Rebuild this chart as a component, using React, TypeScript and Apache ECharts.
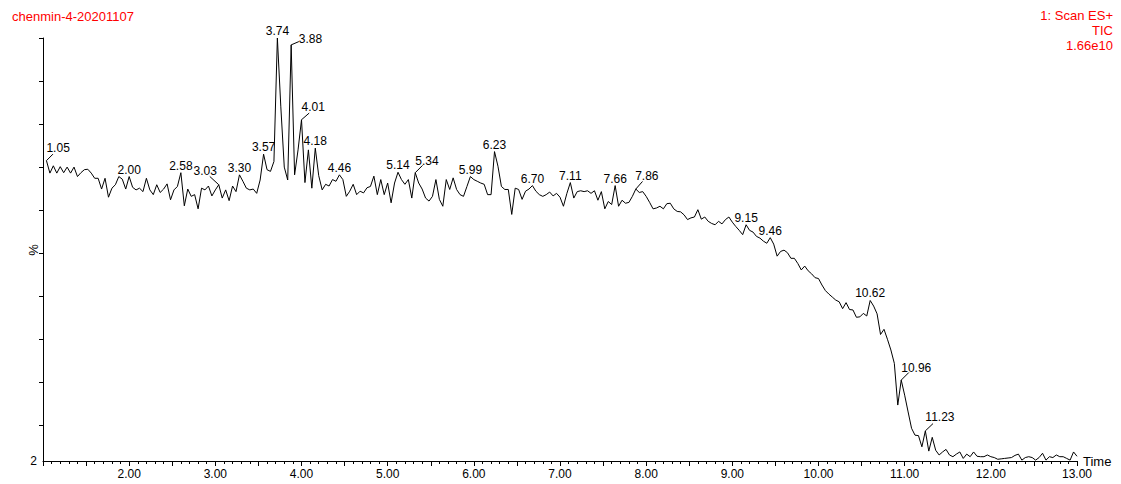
import React, { useEffect, useRef } from "react";
import * as echarts from "echarts";

// ---- data ----
const T0 = 1.04; // first scan time (min)
const DT = 0.04; // scan interval (min)
const ticValues = [
  71.5, 68.6, 70.3, 68.6, 70.1, 68.7, 70.0, 68.6, 70.0, 67.8,
  68.7, 69.4, 69.5, 68.6, 67.4, 67.4, 64.9, 67.4, 63.0, 65.1,
  65.9, 67.8, 67.2, 64.9, 67.8, 65.3, 64.7, 65.1, 64.3, 67.4,
  64.7, 63.6, 65.9, 64.1, 64.9, 66.1, 62.4, 64.7, 65.5, 68.7,
  61.0, 64.9, 63.2, 63.6, 60.3, 65.1, 64.7, 65.6, 63.3, 64.7,
  65.9, 62.8, 64.7, 62.2, 65.6, 64.3, 68.2, 66.7, 65.1, 64.7,
  64.9, 63.9, 67.0, 73.0, 69.4, 69.0, 71.3, 100, 84, 70,
  67.0, 98.4, 68.2, 74, 81.0, 66.4, 74.0, 65.1, 74.4, 68.0,
  64.7, 66.0, 65.6, 67.1, 66.7, 68.2, 67.1, 63.2, 64.4, 66.0,
  63.6, 64.4, 64.0, 65.2, 65.5, 67.9, 63.6, 67.1, 63.6, 66.3,
  61.7, 66.3, 68.8, 67.1, 66.0, 67.1, 62.8, 68.7, 66.3, 64.9,
  62.8, 62.1, 63.2, 67.1, 62.5, 60.9, 67.1, 64.8, 67.5, 64.8,
  63.6, 63.2, 65.5, 67.8, 67.1, 66.7, 66.3, 66.0, 63.6, 63.6,
  73.6, 70.2, 65.5, 64.8, 64.8, 59.0, 65.1, 64.8, 62.5, 64.4,
  64.9, 65.7, 64.4, 63.6, 63.2, 63.6, 64.2, 63.3, 63.9, 63.0,
  60.9, 63.9, 66.4, 62.8, 64.3, 64.5, 64.3, 64.5, 63.9, 64.5,
  62.3, 64.3, 60.3, 62.0, 61.3, 65.7, 60.9, 62.3, 61.6, 61.8,
  63.2, 64.9, 64.1, 64.3, 63.2, 61.8, 60.3, 60.5, 60.9, 60.3,
  61.5, 61.6, 60.3, 59.7, 59.6, 58.9, 57.8, 58.2, 58.4, 60.1,
  57.9, 58.4, 57.4, 56.9, 56.6, 57.4, 56.8, 57.8, 58.4, 57.2,
  56.2, 55.3, 54.3, 56.6, 55.3, 54.9, 53.9, 53.5, 52.8, 52.3,
  53.6, 52.1, 49.3, 50.4, 50.7, 50.1, 48.8, 48.8, 47.6, 46.1,
  47.0, 45.9, 45.2, 44.3, 44.1, 42.6, 41.3, 40.5, 39.8, 39.1,
  38.7, 37.1, 38.5, 36.9, 36.8, 35.1, 35.2, 36.0, 35.4, 39.0,
  37.7, 35.9, 31.1, 32.3, 30.0, 27.5, 24.4, 14.7, 20.5, 17.0,
  13.1, 9.3, 7.7, 7.6, 5.0, 8.7, 4.0, 7.2, 4.2, 3.1,
  3.8, 4.4, 3.1, 2.7, 3.3, 3.8, 2.3, 3.3, 2.7, 3.8,
  2.8, 2.7, 2.7, 3.1, 2.7, 2.5, 2.1, 2.2, 2.3, 2.4,
  2.5, 3.0, 3.3, 1.9, 2.5, 2.7, 2.5, 1.9, 2.5, 3.5,
  1.9, 2.7, 2.5, 3.1, 2.7, 2.7, 2.3, 1.9, 3.8, 2.8,
];
const peakTimes = [
  1.05, 2.0, 2.58, 3.03, 3.3, 3.57, 3.74, 3.88, 4.01, 4.18, 4.46, 5.14,
  5.34, 5.99, 6.23, 6.7, 7.11, 7.66, 7.86, 9.15, 9.46, 10.62, 10.96, 11.23,
];
const yTickValues = [10, 20, 30, 40, 50, 60, 70, 80, 90, 100];
const yBottomLabel = "2";
const xMin = 1;
const xMax = 13;
const yMin = 1.7;
const yMax = 100;
const titleLeft = "chenmin-4-20201107";
const titleRight = ["1: Scan ES+", "TIC", "1.66e10"];
const yName = "%";
const xName = "Time";

// ---- layout / style (not data) ----
const FONT = '"Liberation Sans", Arial, Helvetica, sans-serif';
const RED = "#ff0000";
type Leader = { lx: number; ly: number; tx: number; ty: number; align: string };
const leaderLayout: Record<string, Leader> = {
  "1.05": { lx: 6.5, ly: -6.5, tx: 0, ty: -13, align: "left" },
  "3.03": { lx: -9, ly: -8.3, tx: -13.6, ty: -14, align: "center" },
  "3.88": { lx: 7.7, ly: -3.3, tx: 7.7, ty: -6, align: "left" },
  "4.01": { lx: 7.7, ly: -6.7, tx: 0, ty: -13, align: "left" },
  "5.34": { lx: 7.3, ly: -7.3, tx: 0, ty: -11.6, align: "left" },
  "7.86": { lx: 6.7, ly: -7.6, tx: -0.7, ty: -13.5, align: "left" },
  "10.96": { lx: 7.6, ly: -7.6, tx: 0, ty: -12.3, align: "left" },
  "11.23": { lx: 7.7, ly: -7.3, tx: 0, ty: -13.7, align: "left" },
};

export default function App() {
  const ref = useRef<HTMLDivElement>(null);
  useEffect(() => {
    if (!ref.current) return;
    const chart = echarts.init(ref.current, null, { renderer: "svg" });
    const times = ticValues.map((_, i) => +(T0 + i * DT).toFixed(2));
    const lineData = times.map((t, i) => [t, ticValues[i]]);
    const peakData = peakTimes.map((pt, k) => {
      let best = -1;
      for (let j = 0; j < times.length; j++) {
        if (Math.abs(times[j] - pt) <= 0.031 && (best < 0 || ticValues[j] > ticValues[best])) best = j;
      }
      return [times[best], ticValues[best], k];
    });

    chart.setOption({
      animation: false,
      grid: { left: 43, right: 44, top: 38, bottom: 23, containLabel: false },
      xAxis: {
        type: "value",
        min: xMin,
        max: xMax,
        interval: 0.5,
        name: xName,
        nameLocation: "end",
        nameGap: 6,
        nameTextStyle: { color: "#000", fontFamily: FONT, fontSize: 13, verticalAlign: "middle" },
        axisLine: { show: true, onZero: false, lineStyle: { color: "#000", width: 1 } },
        axisTick: { show: true, inside: false, length: 5, lineStyle: { color: "#000" } },
        minorTick: { show: true, splitNumber: 5, length: 3, lineStyle: { color: "#000" } },
        splitLine: { show: false },
        minorSplitLine: { show: false },
        axisLabel: {
          color: "#000",
          fontFamily: FONT,
          fontSize: 12,
          margin: 7,
          showMinLabel: false,
          showMaxLabel: true,
          formatter: (v: number) =>
            Math.abs(v - Math.round(v)) < 1e-6 && v >= 2 ? v.toFixed(2) : "",
        },
      },
      yAxis: {
        type: "value",
        min: yMin,
        max: yMax,
        axisLine: { show: true, onZero: false, lineStyle: { color: "#000", width: 1 } },
        axisTick: {
          show: true,
          inside: false,
          length: 4,
          customValues: yTickValues,
          lineStyle: { color: "#000" },
        },
        splitLine: { show: false },
        axisLabel: {
          show: true,
          customValues: [yMin],
          formatter: () => yBottomLabel,
          color: "#000",
          fontFamily: FONT,
          fontSize: 12,
          margin: 6,
        },
      },
      graphic: [
        {
          type: "text",
          left: 12,
          top: 10,
          style: { text: titleLeft, fill: RED, font: `13px ${FONT}` },
        },
        {
          type: "text",
          right: 8,
          top: 9,
          style: { text: titleRight[0], fill: RED, font: `13px ${FONT}` },
        },
        {
          type: "text",
          right: 8,
          top: 24,
          style: { text: titleRight[1], fill: RED, font: `13px ${FONT}` },
        },
        {
          type: "text",
          right: 8,
          top: 39,
          style: { text: titleRight[2], fill: RED, font: `13px ${FONT}` },
        },
        {
          type: "text",
          x: 33,
          y: 250,
          rotation: Math.PI / 2,
          style: {
            text: yName,
            fill: "#000",
            font: `13px ${FONT}`,
            align: "center",
            verticalAlign: "middle",
            textAlign: "center",
            textVerticalAlign: "middle",
          },
        },
      ],
      series: [
        {
          type: "line",
          data: lineData,
          showSymbol: false,
          symbol: "none",
          lineStyle: { color: "#000", width: 1 },
          itemStyle: { color: "#000" },
          silent: true,
        },
        {
          type: "custom",
          data: peakData,
          clip: false,
          silent: true,
          encode: { x: 0, y: 1 },
          renderItem: (_params: any, api: any) => {
            const t = api.value(0);
            const v = api.value(1);
            const k = api.value(2);
            const [x, y] = api.coord([t, v]);
            const label = peakTimes[k].toFixed(2);
            const L = leaderLayout[label];
            const children: any[] = [];
            if (L) {
              children.push({
                type: "line",
                shape: { x1: x, y1: y, x2: x + L.lx, y2: y + L.ly },
                style: { stroke: "#000", lineWidth: 1 },
              });
            }
            const align = L ? L.align : "center";
            children.push({
              type: "text",
              x: x + (L ? L.tx : 0),
              y: y + (L ? L.ty : -7),
              style: {
                text: label,
                fill: "#000",
                font: `12px ${FONT}`,
                align,
                verticalAlign: "middle",
                textAlign: align,
                textVerticalAlign: "middle",
              },
            });
            return { type: "group", children };
          },
        },
      ],
    });
    return () => chart.dispose();
  }, []);
  return (
    <div
      ref={ref}
      style={{ position: "fixed", left: 0, top: 0, width: 1121, height: 484, background: "#fff" }}
    />
  );
}
